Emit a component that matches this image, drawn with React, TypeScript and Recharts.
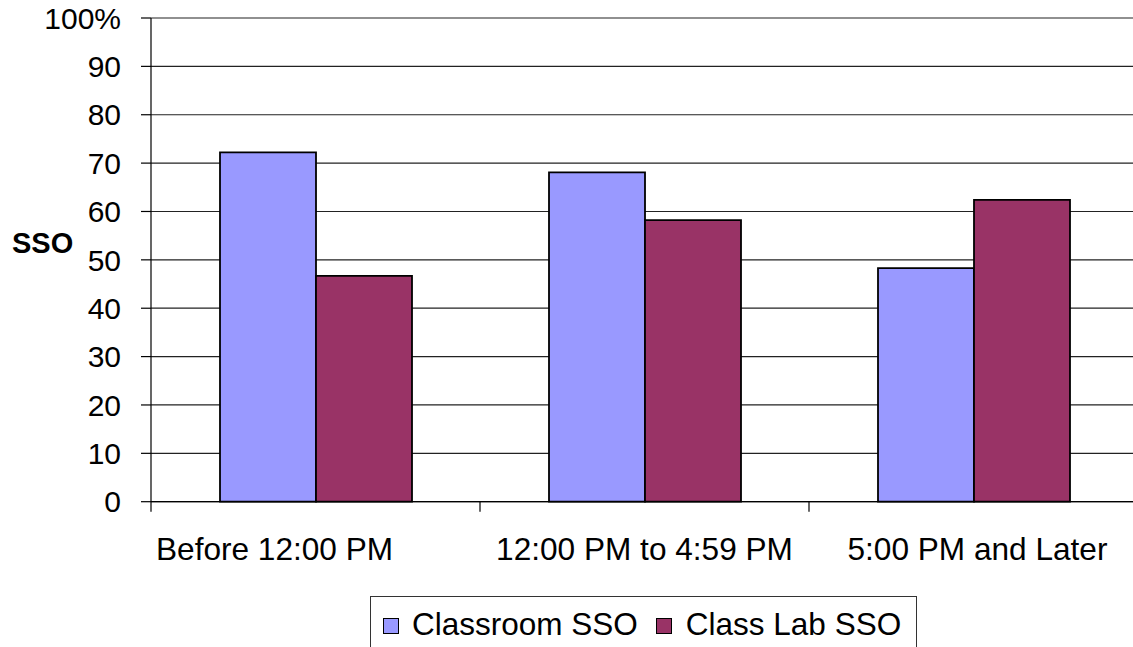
import React from 'react';
import { BarChart, Bar, XAxis, YAxis, CartesianGrid, Legend } from 'recharts';

const FONT = '"Liberation Sans", Arial, sans-serif';

const categories = ['Before 12:00 PM', '12:00 PM to 4:59 PM', '5:00 PM and Later'];
const classroomSSO = [72.2, 68.1, 48.3];
const classLabSSO = [46.7, 58.2, 62.4];
const yTicks = [0, 10, 20, 30, 40, 50, 60, 70, 80, 90, 100];
const seriesNames = ['Classroom SSO', 'Class Lab SSO'];
const seriesColors = ['#9999FF', '#993366'];

const data = categories.map((c, i) => ({
  category: c,
  classroom: classroomSSO[i],
  lab: classLabSSO[i],
}));

const XTick = (props: any) => {
  const { x, y, payload, index } = props;
  const off = typeof payload?.offset === 'number' && payload.offset > 0 ? payload.offset : 164.5;
  const axisY = y - 10;
  const left = x - off;
  const first = index === 0;
  return (
    <g>
      <line x1={left} x2={left} y1={axisY} y2={axisY + 10} stroke="#000" strokeWidth={1.2} />
      <text
        x={first ? left + 5 : x + (index === 2 ? 4 : 0)}
        y={axisY + 58}
        textAnchor={first ? 'start' : 'middle'}
        fontSize={31.6}
        fill="#000"
        fontFamily={FONT}
      >
        {payload.value}
      </text>
    </g>
  );
};

const LegendBox = () => (
  <div
    style={{
      boxSizing: 'border-box',
      width: 547,
      height: 60,
      border: '1.2px solid #333',
      background: '#fff',
      display: 'flex',
      alignItems: 'flex-start',
      paddingLeft: 12,
      paddingTop: 12,
      fontFamily: FONT,
      fontSize: 31.5,
      lineHeight: '31px',
      color: '#000',
      whiteSpace: 'nowrap',
    }}
  >
    {seriesNames.map((n, i) => (
      <div key={n} style={{ display: 'flex', alignItems: 'center', marginLeft: i === 0 ? 0 : 18 }}>
        <span
          style={{
            display: 'inline-block',
            boxSizing: 'border-box',
            width: 16,
            height: 16,
            background: seriesColors[i],
            border: '1.6px solid #000',
            marginRight: i === 0 ? 13 : 14,
            marginTop: 2,
          }}
        />
        <span>{n}</span>
      </div>
    ))}
  </div>
);

export default function App() {
  return (
    <div
      style={{
        position: 'absolute',
        left: 0,
        top: 0,
        width: 1133,
        height: 647,
        overflow: 'hidden',
        background: '#fff',
      }}
    >
      <BarChart
        width={1140}
        height={647}
        data={data}
        margin={{ top: 18, right: 2, left: 0, bottom: 0 }}
        barCategoryGap={69}
        barGap={0}
        style={{ fontFamily: FONT }}
      >
        <CartesianGrid horizontal vertical={false} stroke="#222" strokeWidth={1.2} />
        <XAxis
          dataKey="category"
          height={145.3}
          tickLine={false}
          tickSize={10}
          tickMargin={0}
          axisLine={{ stroke: '#000', strokeWidth: 1.2 }}
          interval={0}
          tick={<XTick />}
        />
        <YAxis
          width={151}
          domain={[0, 100]}
          ticks={yTicks}
          interval={0}
          tickSize={10}
          tickMargin={20}
          tickFormatter={(v: number) => (v === 100 ? '100%' : String(v))}
          tick={{ fontSize: 30, fill: '#000', fontFamily: FONT }}
          tickLine={{ stroke: '#000', strokeWidth: 1.2 }}
          axisLine={{ stroke: '#000', strokeWidth: 1.2 }}
          label={{
            value: 'SSO',
            position: 'insideLeft',
            offset: 12,
            dy: -17,
            style: { fontSize: 29, fontWeight: 'bold', fill: '#000', fontFamily: FONT },
          }}
        />
        <Legend
          layout="horizontal"
          verticalAlign="middle"
          align="center"
          wrapperStyle={{ left: 370, top: 596, width: 547, height: 60 }}
          content={() => <LegendBox />}
        />
        <Bar dataKey="classroom" name={seriesNames[0]} fill={seriesColors[0]} stroke="#000" strokeWidth={1.8} isAnimationActive={false} />
        <Bar dataKey="lab" name={seriesNames[1]} fill={seriesColors[1]} stroke="#000" strokeWidth={1.8} isAnimationActive={false} />
      </BarChart>
    </div>
  );
}
